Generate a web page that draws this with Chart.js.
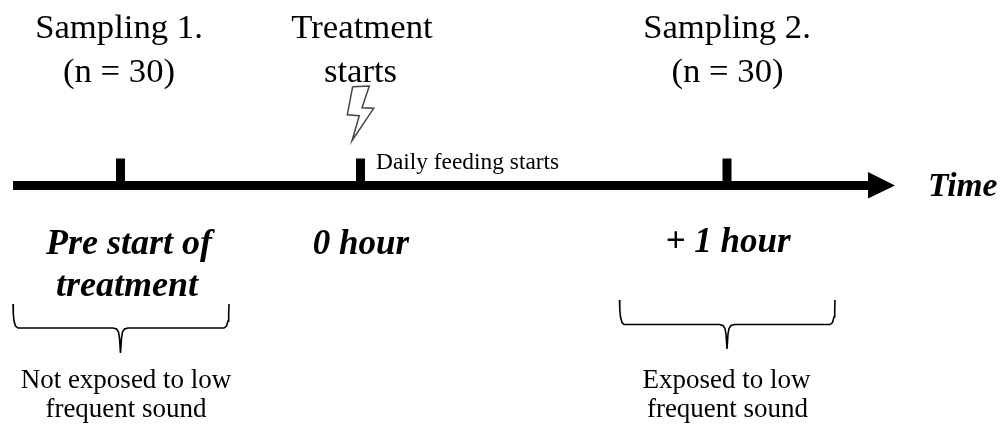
<!DOCTYPE html>
<html>
<head>
<meta charset="utf-8">
<title>Sampling timeline</title>
<script src="https://cdn.jsdelivr.net/npm/chart.js@4/dist/chart.umd.min.js"></script>
<style>
  html, body { margin: 0; padding: 0; background: #fff; }
  canvas { display: block; }
</style>
</head>
<body>
<canvas id="main-chart" width="1002" height="426"></canvas>
<script>
const timelineX = [13, 870];
const timelineY = [185.5, 185.5];
const arrowX = [868, 895, 868, 868];
const arrowY = [172, 185.5, 198.5, 172];
const tickX = [120.5, 360.5, 727];
const tickY = [158.5, 182];
const boltX = [352.7, 369.3, 362, 373.7, 352, 359.3, 347.3, 352.7];
const boltY = [86.7, 86, 107.7, 108.3, 140.7, 115.7, 114.7, 86.7];
const braceLeftX = [13, 13.3, 14, 15.5, 18, 113, 116.5, 118.5, 119.5, 120.5, 121.5, 122.5, 124.5, 128, 224, 226.5, 228, 228.7, 229];
const braceLeftY = [304, 314, 321, 326, 328, 328, 329, 332, 338, 353, 338, 332, 329, 328, 328, 326, 321, 314, 304];
const braceRightX = [619.5, 619.8, 620.5, 622, 624, 719.5, 723, 725, 726, 727, 728, 729, 731, 734.5, 830, 832.5, 834, 834.7, 835];
const braceRightY = [300, 310, 317, 322.5, 324.5, 324.5, 325.5, 328.5, 334, 349, 334, 328.5, 325.5, 324.5, 324.5, 322.5, 317, 310, 300];

const headings = ['Sampling 1.', '(n = 30)', 'Treatment', 'starts', 'Sampling 2.', '(n = 30)'];
const timepoints = ['Pre start of', 'treatment', '0 hour', '+ 1 hour', 'Time'];
const exposure = ['Not exposed to low', 'frequent sound', 'Exposed to low', 'frequent sound'];
const feedingNote = 'Daily feeding starts';

function pts(xs, ys) {
  return xs.map((x, i) => ({ x: x, y: ys[i] }));
}

function lineSet(data, width, extra) {
  return Object.assign({
    data: data,
    showLine: true,
    borderColor: '#000',
    borderWidth: width,
    pointRadius: 0,
    tension: 0,
    fill: false
  }, extra);
}

// text goes through the same scales as the marks
const textPlugin = {
  id: 'diagramText',
  afterDatasetsDraw(chart) {
    const { ctx, scales } = chart;
    const put = (text, x, y, font, align) => {
      ctx.font = font;
      ctx.textAlign = align || 'center';
      ctx.fillText(text, scales.x.getPixelForValue(x), scales.y.getPixelForValue(y));
    };
    const head = '34.7px "Liberation Serif"';
    const stamp = 'italic bold 35px "Liberation Serif"';
    const stampWide = 'italic bold 36px "Liberation Serif"';
    const note = '27px "Liberation Serif"';
    ctx.save();
    ctx.fillStyle = '#000';
    ctx.textBaseline = 'alphabetic';
    put(headings[0], 119, 38, head);
    put(headings[1], 119, 82, head);
    put(headings[2], 362, 38, head);
    put(headings[3], 360.5, 82, head);
    put(headings[4], 727, 38, head);
    put(headings[5], 727.5, 82, head);
    put(timepoints[0], 129, 254, stampWide);
    put(timepoints[1], 127, 296, stampWide);
    put(timepoints[2], 361, 254, stamp);
    put(timepoints[3], 728, 252, stamp);
    put(timepoints[4], 928, 196, 'italic bold 33.5px "Liberation Serif"', 'left');
    put(exposure[0], 126, 388, note);
    put(exposure[1], 126, 417, note);
    put(exposure[2], 726.5, 388, note);
    put(exposure[3], 727.5, 417, note);
    put(feedingNote, 376, 169, '23.4px "Liberation Serif"', 'left');
    ctx.restore();
  }
};

new Chart(document.getElementById('main-chart').getContext('2d'), {
  type: 'scatter',
  data: {
    datasets: [
      lineSet(pts(timelineX, timelineY), 9),
      lineSet(pts(arrowX, arrowY), 0, { fill: 'shape', backgroundColor: '#000' }),
      ...tickX.map(x => lineSet(pts([x, x], tickY), 9)),
      lineSet(pts(boltX, boltY), 1.5, { borderColor: '#444', fill: 'shape', backgroundColor: '#fff' }),
      lineSet(pts(braceLeftX, braceLeftY), 1.6),
      lineSet(pts(braceRightX, braceRightY), 1.6)
    ]
  },
  options: {
    responsive: false,
    animation: false,
    layout: { padding: 0 },
    plugins: { legend: { display: false }, tooltip: { enabled: false } },
    scales: {
      x: { type: 'linear', min: 0, max: 1002, display: false },
      y: { type: 'linear', min: 0, max: 426, reverse: true, display: false }
    }
  },
  plugins: [textPlugin]
});
</script>
</body>
</html>
